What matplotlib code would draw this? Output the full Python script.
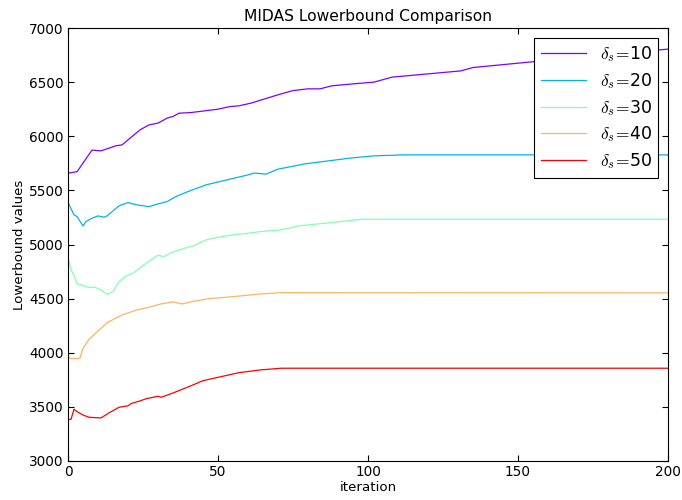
import numpy as np
import matplotlib
matplotlib.use("Agg")
import matplotlib.pyplot as plt

# 반복 횟수별 lowerbound (그림에서 읽은 꼭짓점)
it_10 = [0, 3, 8, 11, 16, 18, 24, 27, 30, 33, 35, 37, 41, 50, 54, 57, 61, 70, 75, 80, 84, 88, 95, 102, 108, 131, 135, 156, 200]
lb_10 = [5660, 5672, 5872, 5865, 5912, 5920, 6059, 6105, 6121, 6167, 6183, 6213, 6219, 6250, 6274, 6281, 6306, 6383,
         6422, 6438, 6438, 6466, 6484, 6500, 6546, 6604, 6635, 6691, 6805]

it_20 = [0, 2, 3, 5, 6, 8, 10, 12, 13, 17, 20, 23, 27, 30, 33, 36, 40, 46, 53, 60, 62, 64, 66, 70, 79, 94, 102, 112, 200]
lb_20 = [5390, 5274, 5258, 5172, 5212, 5243, 5264, 5252, 5264, 5357, 5387, 5366, 5350, 5375, 5396, 5443, 5489, 5551,
         5597, 5643, 5660, 5655, 5650, 5696, 5745, 5798, 5819, 5828, 5828]

it_30 = [0, 1, 2, 3, 7, 9, 11, 13, 15, 17, 19, 22, 26, 30, 32, 34, 37, 42, 46, 50, 55, 60, 64, 71, 77, 91, 98, 200]
lb_30 = [4873, 4765, 4719, 4636, 4605, 4605, 4580, 4540, 4565, 4657, 4703, 4740, 4827, 4901, 4888, 4919, 4950, 4990,
         5043, 5067, 5089, 5104, 5119, 5135, 5172, 5212, 5234, 5234]

it_40 = [0, 1, 4, 5, 7, 10, 13, 18, 23, 27, 31, 35, 38, 42, 47, 55, 64, 71, 200]
lb_40 = [3960, 3945, 3949, 4041, 4125, 4200, 4278, 4349, 4396, 4420, 4451, 4470, 4451, 4476, 4500, 4518, 4543, 4555, 4553]

it_50 = [0, 1, 2, 3, 5, 7, 11, 14, 17, 20, 21, 24, 26, 30, 31, 35, 41, 45, 51, 57, 64, 71, 200]
lb_50 = [3385, 3385, 3478, 3456, 3425, 3404, 3398, 3450, 3496, 3510, 3530, 3555, 3575, 3598, 3588, 3628, 3695, 3742,
         3779, 3816, 3841, 3857, 3857]

deltas = [10, 20, 30, 40, 50]
series = [(it_10, lb_10), (it_20, lb_20), (it_30, lb_30), (it_40, lb_40), (it_50, lb_50)]

plt.rcParams["mathtext.fontset"] = "cm"
plt.rcParams["xtick.direction"] = "in"
plt.rcParams["ytick.direction"] = "in"
plt.rcParams["xtick.top"] = True
plt.rcParams["ytick.right"] = True

fig = plt.figure(figsize=(6.82, 5.0), dpi=100)
ax = fig.add_axes([0.0997, 0.078, 0.8798, 0.866])
colors = plt.cm.rainbow(np.linspace(0, 1, len(deltas)))

for (it, lb), d, c in zip(series, deltas, colors):
    ax.plot(it, lb, color=c, lw=0.9, label=r"$\delta_s\!=\!$" + f"{d}")

ax.set_xlim(0, 200); ax.set_ylim(3000, 7000)
ax.set_xticks([0, 50, 100, 150, 200])
ax.set_yticks(range(3000, 7001, 500))
ax.tick_params(labelsize=9.8, length=4, width=0.8, pad=3)
ax.set_xlabel("iteration", fontsize=9.6, labelpad=1)
ax.set_ylabel("Lowerbound values", fontsize=9.6, labelpad=2)
ax.set_title("MIDAS Lowerbound Comparison", fontsize=11.2, pad=5)
leg = ax.legend(loc="upper right", fontsize=12.5, fancybox=False, framealpha=1,
                edgecolor="black", borderaxespad=0.55, handlelength=2.6, labelspacing=0.38)
leg.get_frame().set_linewidth(0.8)

fig.savefig("out.png", dpi=100)
